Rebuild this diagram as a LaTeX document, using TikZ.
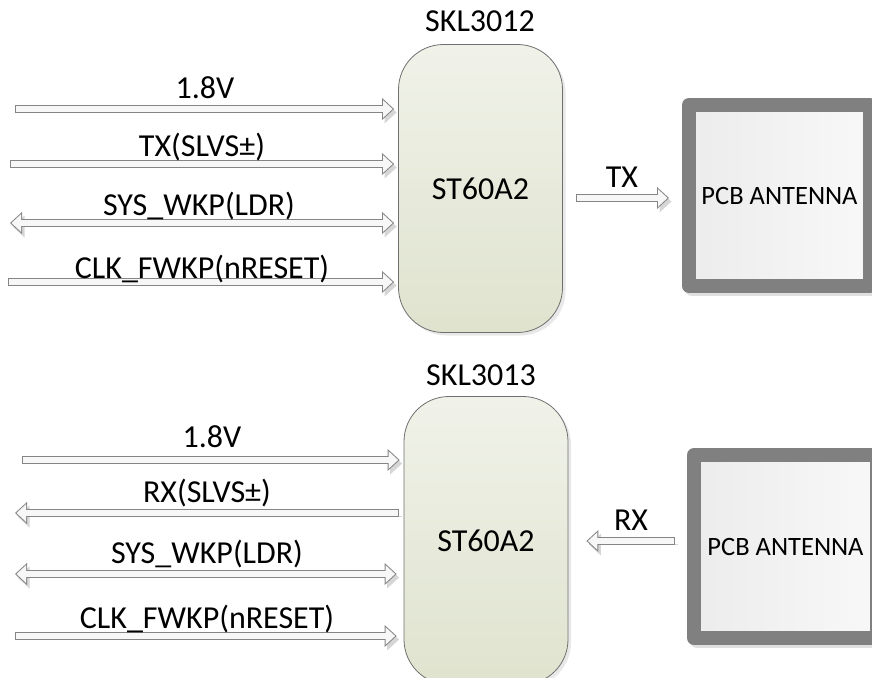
\documentclass[tikz,border=0pt]{standalone}
\usepackage{fontspec}
\setmainfont{Carlito}
\usetikzlibrary{arrows.meta, positioning, calc, shadows}
\definecolor{ChipTop}{HTML}{F0F2E9}
\definecolor{ChipBottom}{HTML}{DFE3CE}
\definecolor{ChipEdge}{HTML}{6F6F6F}
\definecolor{FrameGray}{HTML}{808080}
\definecolor{PadLight}{HTML}{F8F8F8}
\definecolor{PadDark}{HTML}{ECECEC}
\definecolor{PinEdge}{HTML}{858585}
\definecolor{PinShadow}{HTML}{D6D6D6}
\definecolor{PinFill}{HTML}{F7F7F7}

\tikzset{
    PinHead/.tip={Triangle[length=12pt, width=22pt, line width=0pt]},
    PinHeadIn/.tip={Triangle[length=9.5pt, width=17.5pt, line width=0pt]},
    sigline/.style={draw=PinEdge, line width=8pt, -PinHead,
        preaction={draw=PinShadow, transform canvas={shift={(2.5pt,-3.5pt)}}},
        postaction={draw=PinFill, line width=6pt, -PinHeadIn,
                    shorten <=1pt, shorten >=1.5pt}},
    sigboth/.style={draw=PinEdge, line width=8pt, PinHead-PinHead,
        preaction={draw=PinShadow, transform canvas={shift={(2.5pt,-3.5pt)}}},
        postaction={draw=PinFill, line width=6pt, PinHeadIn-PinHeadIn,
                    shorten <=1.5pt, shorten >=1.5pt}}
}

\begin{document}
\begin{tikzpicture}[x=1pt, y=-1pt,
    chip/.style={rectangle, rounded corners=45pt, draw=ChipEdge, line width=0.8pt,
                 top color=ChipTop, bottom color=ChipBottom,
                 minimum width=164pt, minimum height=288pt, inner sep=0pt,
                 drop shadow={shadow xshift=3pt, shadow yshift=-3pt, opacity=0.18},
                 font=\fontsize{32}{38}\selectfont},
    antenna/.style={rectangle, draw=FrameGray, line width=14pt, line join=round,
                 left color=PadDark, right color=PadLight,
                 minimum size=181pt, inner sep=0pt,
                 drop shadow={shadow xshift=2.5pt, shadow yshift=-2.5pt,
                              fill=black!12, draw=black!12, opacity=1},
                 font=\fontsize{26.5}{30}\selectfont},
    sigtext/.style={font=\fontsize{32}{38}\selectfont, inner sep=0pt, anchor=base}
]
    \useasboundingbox (0,0) rectangle (872,677);

    % Transmitter module
    \node[chip] (chipA) at (480.5,188.5) {ST60A2};
    \node[sigtext] (nameA) at (480,32) {SKL3012};
    \node[antenna] (antA) at (779.5,195.5) {PCB ANTENNA};

    \coordinate (a1) at (15,109);
    \coordinate (a2) at (10,164);
    \coordinate (a3) at (10,223);
    \coordinate (a4) at (8,282);
    \draw[sigline] (a1) -- ($(chipA.west |- a1)+(-4,0)$);
    \draw[sigline] (a2) -- ($(chipA.west |- a2)+(-4,0)$);
    \draw[sigboth] (a3) -- ($(chipA.west |- a3)+(-4,0)$);
    \draw[sigline] (a4) -- ($(chipA.west |- a4)+(-4,0)$);

    \node[sigtext] (lblA1) at (205,98) {1.8V};
    \node[sigtext] (lblA2) at (202,156) {TX(SLVS±)};
    \node[sigtext] (lblA3) at (199,215) {SYS\_WKP(LDR)};
    \node[sigtext] (lblA4) at (202,278) {CLK\_FWKP(nRESET)};

    \coordinate (txA) at (576,198);
    \draw[sigline] (txA) -- ($(antA.west |- txA)+(-13,0)$);
    \node[sigtext] (lblTX) at (622,187) {TX};

    % Receiver module
    \node[chip] (chipB) at (486,540.5) {ST60A2};
    \node[sigtext] (nameB) at (481,385) {SKL3013};
    \node[antenna, minimum size=183pt] (antB) at (785.5,546.5) {PCB ANTENNA};

    \coordinate (b1) at (22,460);
    \coordinate (b2) at (399,513);
    \coordinate (b3) at (15,574);
    \coordinate (b4) at (15,636);
    \draw[sigline] (b1) -- ($(chipB.west |- b1)+(-4,0)$);
    \draw[sigline] (b2) -- (15,513);
    \draw[sigboth] (b3) -- ($(chipB.west |- b3)+(-7,0)$);
    \draw[sigline] (b4) -- ($(chipB.west |- b4)+(-7,0)$);

    \node[sigtext] (lblB1) at (212,447) {1.8V};
    \node[sigtext] (lblB2) at (207,502) {RX(SLVS±)};
    \node[sigtext] (lblB3) at (207,563) {SYS\_WKP(LDR)};
    \node[sigtext] (lblB4) at (207,628) {CLK\_FWKP(nRESET)};

    \coordinate (rxB) at (675,541);
    \draw[sigline] (rxB) -- ($(chipB.east |- rxB)+(18,0)$);
    \node[sigtext] (lblRX) at (631,530) {RX};
\end{tikzpicture}
\end{document}
